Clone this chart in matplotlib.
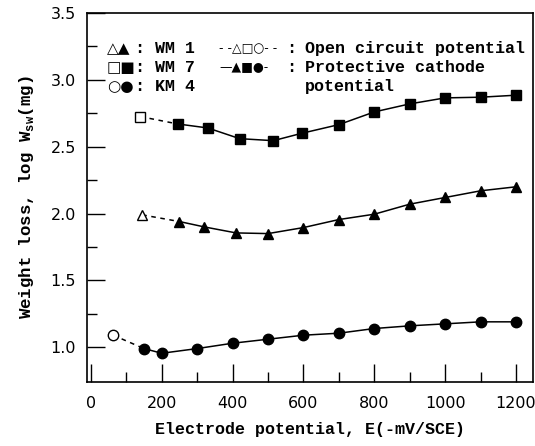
import numpy as np
import matplotlib
matplotlib.use("Agg")
import matplotlib.pyplot as plt

plt.rcParams['mathtext.fontset'] = 'custom'
plt.rcParams['mathtext.rm'] = 'Liberation Mono:bold'

# WM 1 (triangles)
wm1_open_x = [145]
wm1_open_y = [1.99]
wm1_x = [250, 320, 410, 500, 600, 700, 800, 900, 1000, 1100, 1200]
wm1_y = [1.94, 1.90, 1.855, 1.85, 1.895, 1.955, 1.995, 2.07, 2.12, 2.17, 2.20]

# WM 7 (squares)
wm7_open_x = [140]
wm7_open_y = [2.725]
wm7_x = [245, 330, 420, 515, 595, 700, 800, 900, 1000, 1100, 1200]
wm7_y = [2.67, 2.64, 2.56, 2.545, 2.60, 2.665, 2.76, 2.82, 2.865, 2.87, 2.885]

# KM 4 (circles)
km4_open_x = [63]
km4_open_y = [1.09]
km4_x = [150, 200, 300, 400, 500, 600, 700, 800, 900, 1000, 1100, 1200]
km4_y = [0.99, 0.955, 0.99, 1.03, 1.06, 1.09, 1.105, 1.14, 1.16, 1.175, 1.19, 1.19]

mono = 'Liberation Mono'
lw = 1.1

fig = plt.figure(figsize=(5.35, 4.46), dpi=100)
ax = fig.add_axes([0.1626, 0.1435, 0.8337, 0.8274])

series = [
    (wm7_open_x, wm7_open_y, wm7_x, wm7_y, 's', 7.0),
    (wm1_open_x, wm1_open_y, wm1_x, wm1_y, '^', 7.5),
    (km4_open_x, km4_open_y, km4_x, km4_y, 'o', 7.5),
]
for ox, oy, fx, fy, m, ms in series:
    # dashed link from open-circuit point to first cathodic point
    ax.plot([ox[0], fx[0]], [oy[0], fy[0]], color='black', lw=lw, ls=(0, (3, 3)))
    ax.plot(fx, fy, color='black', lw=lw, marker=m, ms=ms, mfc='black', mec='black')
    ax.plot(ox, oy, ls='none', marker=m, ms=ms, mfc='white', mec='black', mew=1.0)

ax.set_xlim(-11, 1248)
ax.set_ylim(0.74, 3.5)

ax.set_xticks(np.arange(0, 1201, 200))
ax.set_xticks(np.arange(100, 1200, 200), minor=True)
ax.set_yticks(np.arange(1.0, 3.51, 0.5))
ax.set_yticks(np.arange(1.25, 3.5, 0.5), minor=True)
ax.set_yticklabels(['1.0', '1.5', '2.0', '2.5', '3.0', '3.5'])
ax.tick_params(which='major', direction='in', length=13, width=1.0, labelsize=11.5, pad=8)
ax.tick_params(which='minor', direction='in', length=7, width=1.0)
ax.tick_params(axis='x', which='major', pad=10)
for s in ax.spines.values():
    s.set_linewidth(1.2)

ax.set_xlabel('Electrode potential, E(-mV/SCE)', fontfamily=mono, fontweight='bold',
              fontsize=12, labelpad=8)
ax.set_ylabel(r'Weight loss, log W$_{\mathrm{sw}}$(mg)', fontfamily=mono, fontweight='bold',
              fontsize=12.5, labelpad=10)

# legend drawn as text
sym = dict(fontfamily='DejaVu Sans', fontsize=11, va='center')
txt = dict(fontfamily=mono, fontweight='bold', fontsize=12, va='center')
ax.text(45, 3.234, '\u25b3\u25b2', **sym)
ax.text(45, 3.092, '\u25a1\u25a0', **sym)
ax.text(45, 2.950, '\u25cb\u25cf', **sym)
ax.text(125, 3.234, ': WM 1', **txt)
ax.text(125, 3.092, ': WM 7', **txt)
ax.text(125, 2.950, ': KM 4', **txt)
ax.text(362, 3.234, '- -\u25b3\u25a1\u25cb- -', fontfamily='DejaVu Sans', fontsize=9, va='center')
ax.text(362, 3.092, '\u2014\u25b2\u25a0\u25cf-', fontfamily='DejaVu Sans', fontsize=9, va='center')
ax.text(552, 3.234, ':', **txt)
ax.text(552, 3.092, ':', **txt)
ax.text(603, 3.234, 'Open circuit potential', **txt)
ax.text(603, 3.092, 'Protective cathode', **txt)
ax.text(603, 2.950, 'potential', **txt)

plt.savefig('out.png', dpi=100)
